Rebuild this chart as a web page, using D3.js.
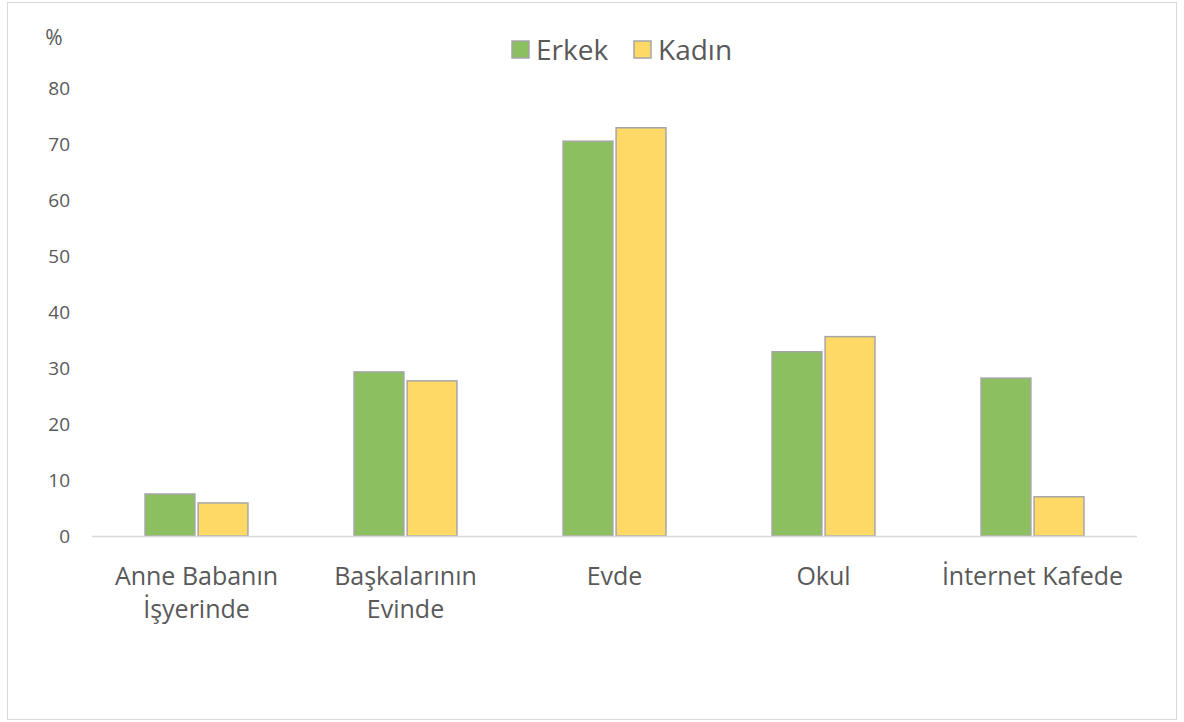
<!DOCTYPE html>
<html>
<head>
<meta charset="utf-8">
<script src="https://cdn.jsdelivr.net/npm/d3@7"></script>
<style>
  html, body { margin: 0; padding: 0; background: #fff; }
  svg { display: block; font-family: "Open Sans", "Noto Sans", sans-serif; }
</style>
</head>
<body>
<svg id="chart" width="1184" height="722"></svg>
<script>
// Internet usage location by gender (%)
const categories = [["Anne Babanın", "İşyerinde"], ["Başkalarının", "Evinde"], ["Evde"], ["Okul"], ["İnternet Kafede"]];
const seriesNames = ["Erkek", "Kadın"];
const erkek = [7.5, 29.3, 70.5, 32.9, 28.2];
const kadin = [5.9, 27.7, 72.9, 35.6, 7.0];
const yTicks = [0, 10, 20, 30, 40, 50, 60, 70, 80];
const colors = ["#8bbf60", "#ffd966"];

const svg = d3.select("#chart");
const W = 1184, H = 722;

// chart frame
svg.append("rect")
  .attr("x", 7.5).attr("y", 2.5).attr("width", W - 15).attr("height", H - 5)
  .attr("fill", "#fff").attr("stroke", "#d9d9d9").attr("stroke-width", 1);

const plot = { left: 92, right: 1137, top: 88, bottom: 536 };

const x0 = d3.scaleBand()
  .domain(d3.range(categories.length))
  .range([plot.left, plot.right])
  .paddingInner(0).paddingOuter(0);

const x1 = d3.scaleBand()
  .domain(d3.range(seriesNames.length))
  .range([0, x0.bandwidth()])
  .paddingInner(0.06)
  .paddingOuter(1.0);

const y = d3.scaleLinear().domain([0, 80]).range([plot.bottom, plot.top]);

// y tick labels
svg.append("g").selectAll("text")
  .data(yTicks)
  .join("text")
  .attr("x", 70)
  .attr("y", d => y(d))
  .attr("dy", "0.35em")
  .attr("text-anchor", "end")
  .attr("font-size", 19)
  .attr("fill", "#595959")
  .text(d => d);

svg.append("text")
  .attr("x", 54).attr("y", 38).attr("dy", "0.35em")
  .attr("text-anchor", "middle")
  .attr("font-size", 21).attr("fill", "#595959")
  .text("%");

// bars
const values = [erkek, kadin];
const groups = svg.append("g").selectAll("g")
  .data(categories.map((c, i) => i))
  .join("g")
  .attr("transform", i => `translate(${x0(i)},0)`);

groups.selectAll("rect")
  .data(i => values.map((s, k) => ({ k, v: s[i] })))
  .join("rect")
  .attr("x", d => x1(d.k))
  .attr("width", x1.bandwidth())
  .attr("y", d => y(d.v))
  .attr("height", d => y(0) - y(d.v))
  .attr("fill", d => colors[d.k])
  .attr("stroke", "#a6a6a6")
  .attr("stroke-width", 1.5);

// baseline
svg.append("line")
  .attr("x1", plot.left).attr("x2", plot.right)
  .attr("y1", y(0) + 0.5).attr("y2", y(0) + 0.5)
  .attr("stroke", "#d9d9d9").attr("stroke-width", 1.5);

// category labels
const catG = svg.append("g").selectAll("text")
  .data(categories)
  .join("text")
  .attr("x", (d, i) => x0(i) + x0.bandwidth() / 2)
  .attr("y", 585)
  .attr("text-anchor", "middle")
  .attr("font-size", 25)
  .attr("fill", "#595959");
catG.selectAll("tspan")
  .data(d => d)
  .join("tspan")
  .attr("x", function () { return d3.select(this.parentNode).attr("x"); })
  .attr("dy", (d, j) => j === 0 ? 0 : 33)
  .text(d => d);

// legend
const legendItems = [
  { name: seriesNames[0], color: colors[0], x: 512 },
  { name: seriesNames[1], color: colors[1], x: 634 }
];
const lg = svg.append("g").selectAll("g")
  .data(legendItems)
  .join("g")
  .attr("transform", d => `translate(${d.x},41)`);
lg.append("rect")
  .attr("width", 17).attr("height", 17)
  .attr("fill", d => d.color)
  .attr("stroke", "#a6a6a6").attr("stroke-width", 1.5);
lg.append("text")
  .attr("x", 24).attr("y", 9).attr("dy", "0.35em")
  .attr("font-size", 28).attr("fill", "#595959")
  .text(d => d.name);
</script>
</body>
</html>
